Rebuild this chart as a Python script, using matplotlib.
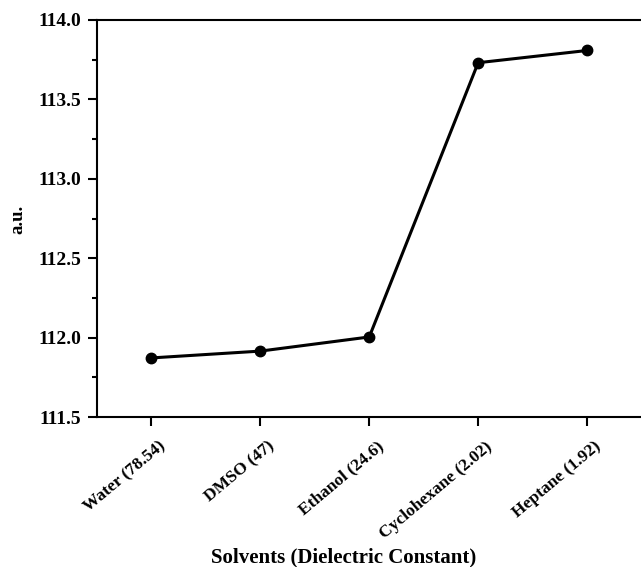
import matplotlib
matplotlib.use("Agg")
import matplotlib.pyplot as plt
import matplotlib.transforms as mtransforms
from matplotlib.ticker import MultipleLocator

solvents = ["Water (78.54)", "DMSO (47)", "Ethanol (24.6)",
            "Cyclohexane (2.02)", "Heptane (1.92)"]
au_values = [111.872, 111.915, 112.004, 113.731, 113.808]

plt.rcParams["font.family"] = "Liberation Serif"
plt.rcParams["font.weight"] = "bold"

W, H = 641, 567
fig = plt.figure(figsize=(W / 100, H / 100), dpi=100)
ax = fig.add_axes([97 / W, 1 - 417 / H, 544.5 / W, 397 / H])

x = list(range(len(solvents)))
ax.plot(x, au_values, color="black", lw=2.2, marker="o", ms=7.5, zorder=3)

ax.set_xlim(-0.5, 4.5)
ax.set_ylim(111.5, 114.0)
ax.yaxis.set_major_locator(MultipleLocator(0.5))
ax.yaxis.set_minor_locator(MultipleLocator(0.25))
ax.set_yticklabels([f"{v:.1f}" for v in ax.get_yticks()])
ax.set_xticks(x)

for s in ["left", "bottom", "top"]:
    ax.spines[s].set_linewidth(1.5)
ax.spines["right"].set_visible(False)

ax.tick_params(axis="both", which="major", direction="out", length=6.5,
               width=1.5, pad=5)
ax.tick_params(axis="y", which="major", labelsize=14)
ax.tick_params(axis="y", which="minor", direction="out", length=3.6, width=1.5)
ax.tick_params(axis="x", labelbottom=False)

# rotated category labels, nudged a little right of their ticks like the reference
shift = mtransforms.ScaledTranslation(0.07, -0.215, fig.dpi_scale_trans)
for i, name in zip(x, solvents):
    ax.text(i, 0, name, transform=ax.get_xaxis_transform() + shift,
            rotation=40, rotation_mode="anchor", ha="right", va="top",
            fontsize=12.5, fontweight="bold", clip_on=False)

# axis titles placed in figure pixels to match the reference
fig.text(343.5 / W, 1 - 562 / H, "Solvents (Dielectric Constant)",
         ha="center", va="baseline", fontsize=15, fontweight="bold")
fig.text(18 / W, 1 - 219 / H, "a.u.", rotation=90,
         ha="center", va="center", fontsize=13.5, fontweight="bold")

fig.savefig("out.png", dpi=100)
